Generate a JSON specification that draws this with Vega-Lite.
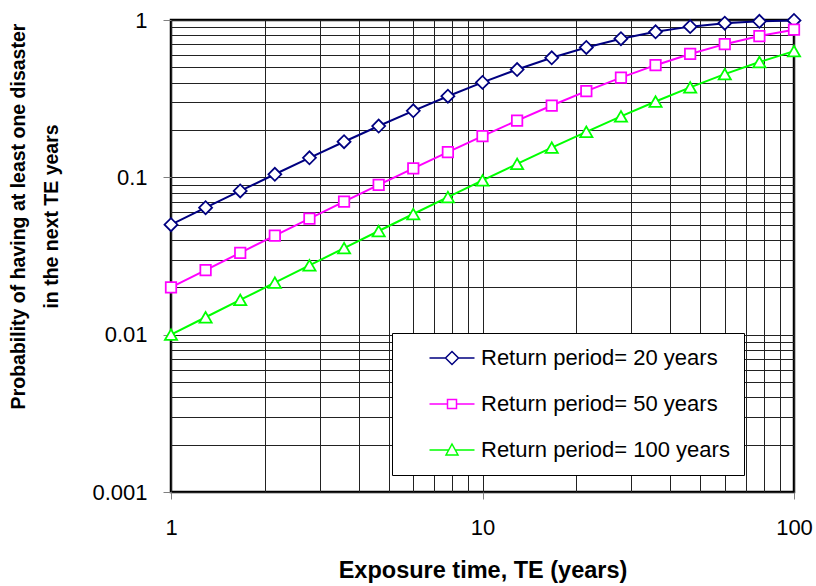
{
  "$schema": "https://vega.github.io/schema/vega-lite/v6.json",
  "width": 623,
  "height": 472,
  "autosize": "none",
  "padding": {"left": 171, "top": 20, "right": 22, "bottom": 94},
  "background": "white",
  "config": {
    "font": "Liberation Sans",
    "view": {"stroke": "black", "strokeWidth": 2.5},
    "axis": {
      "domain": false,
      "grid": true,
      "gridColor": "#222222",
      "gridWidth": 1,
      "tickColor": "#808080",
      "tickWidth": 1,
      "labelColor": "black",
      "labelFontSize": 22,
      "labelOverlap": false,
      "labelFlush": false,
      "titleColor": "black",
      "titleFontWeight": "bold"
    }
  },
  "data": {
    "values": [
      {"te": 1, "p": 0.05, "series": "Return period= 20 years"},
      {"te": 1.2915, "p": 0.0641, "series": "Return period= 20 years"},
      {"te": 1.6681, "p": 0.082, "series": "Return period= 20 years"},
      {"te": 2.1544, "p": 0.1046, "series": "Return period= 20 years"},
      {"te": 2.7826, "p": 0.133, "series": "Return period= 20 years"},
      {"te": 3.5938, "p": 0.1684, "series": "Return period= 20 years"},
      {"te": 4.6416, "p": 0.2119, "series": "Return period= 20 years"},
      {"te": 5.9948, "p": 0.2647, "series": "Return period= 20 years"},
      {"te": 7.7426, "p": 0.3278, "series": "Return period= 20 years"},
      {"te": 10, "p": 0.4013, "series": "Return period= 20 years"},
      {"te": 12.915, "p": 0.4844, "series": "Return period= 20 years"},
      {"te": 16.681, "p": 0.575, "series": "Return period= 20 years"},
      {"te": 21.544, "p": 0.6688, "series": "Return period= 20 years"},
      {"te": 27.826, "p": 0.7601, "series": "Return period= 20 years"},
      {"te": 35.938, "p": 0.8417, "series": "Return period= 20 years"},
      {"te": 46.416, "p": 0.9075, "series": "Return period= 20 years"},
      {"te": 59.948, "p": 0.9538, "series": "Return period= 20 years"},
      {"te": 77.426, "p": 0.9812, "series": "Return period= 20 years"},
      {"te": 100, "p": 0.9941, "series": "Return period= 20 years"},
      {"te": 1, "p": 0.02, "series": "Return period= 50 years"},
      {"te": 1.2915, "p": 0.02575, "series": "Return period= 50 years"},
      {"te": 1.6681, "p": 0.03314, "series": "Return period= 50 years"},
      {"te": 2.1544, "p": 0.04259, "series": "Return period= 50 years"},
      {"te": 2.7826, "p": 0.05467, "series": "Return period= 50 years"},
      {"te": 3.5938, "p": 0.07003, "series": "Return period= 50 years"},
      {"te": 4.6416, "p": 0.08951, "series": "Return period= 50 years"},
      {"te": 5.9948, "p": 0.1141, "series": "Return period= 50 years"},
      {"te": 7.7426, "p": 0.1448, "series": "Return period= 50 years"},
      {"te": 10, "p": 0.1829, "series": "Return period= 50 years"},
      {"te": 12.915, "p": 0.2296, "series": "Return period= 50 years"},
      {"te": 16.681, "p": 0.2861, "series": "Return period= 50 years"},
      {"te": 21.544, "p": 0.3529, "series": "Return period= 50 years"},
      {"te": 27.826, "p": 0.43, "series": "Return period= 50 years"},
      {"te": 35.938, "p": 0.5162, "series": "Return period= 50 years"},
      {"te": 46.416, "p": 0.6085, "series": "Return period= 50 years"},
      {"te": 59.948, "p": 0.7022, "series": "Return period= 50 years"},
      {"te": 77.426, "p": 0.7908, "series": "Return period= 50 years"},
      {"te": 100, "p": 0.8674, "series": "Return period= 50 years"},
      {"te": 1, "p": 0.01, "series": "Return period= 100 years"},
      {"te": 1.2915, "p": 0.0129, "series": "Return period= 100 years"},
      {"te": 1.6681, "p": 0.01663, "series": "Return period= 100 years"},
      {"te": 2.1544, "p": 0.02142, "series": "Return period= 100 years"},
      {"te": 2.7826, "p": 0.02758, "series": "Return period= 100 years"},
      {"te": 3.5938, "p": 0.03547, "series": "Return period= 100 years"},
      {"te": 4.6416, "p": 0.04558, "series": "Return period= 100 years"},
      {"te": 5.9948, "p": 0.05847, "series": "Return period= 100 years"},
      {"te": 7.7426, "p": 0.07486, "series": "Return period= 100 years"},
      {"te": 10, "p": 0.09562, "series": "Return period= 100 years"},
      {"te": 12.915, "p": 0.1217, "series": "Return period= 100 years"},
      {"te": 16.681, "p": 0.1544, "series": "Return period= 100 years"},
      {"te": 21.544, "p": 0.1947, "series": "Return period= 100 years"},
      {"te": 27.826, "p": 0.2439, "series": "Return period= 100 years"},
      {"te": 35.938, "p": 0.3032, "series": "Return period= 100 years"},
      {"te": 46.416, "p": 0.3728, "series": "Return period= 100 years"},
      {"te": 59.948, "p": 0.4526, "series": "Return period= 100 years"},
      {"te": 77.426, "p": 0.5408, "series": "Return period= 100 years"},
      {"te": 100, "p": 0.634, "series": "Return period= 100 years"}
    ]
  },
  "encoding": {
    "x": {
      "field": "te",
      "type": "quantitative",
      "scale": {"type": "log", "domain": [1, 100]},
      "axis": {
        "values": [1, 2, 3, 4, 5, 6, 7, 8, 9, 10, 20, 30, 40, 50, 60, 70, 80, 90, 100],
        "labelExpr": "(datum.value == 1 || datum.value == 10 || datum.value == 100) ? format(datum.value, '~g') : ''",
        "tickOpacity": {"condition": {"test": "datum.value == 1 || datum.value == 10 || datum.value == 100", "value": 1}, "value": 0},
        "tickSize": 7,
        "labelPadding": 18,
        "title": "Exposure time, TE (years)",
        "titleFontSize": 23.5,
        "titleY": 85,
        "titleBaseline": "alphabetic"
      }
    },
    "y": {
      "field": "p",
      "type": "quantitative",
      "scale": {"type": "log", "domain": [0.001, 1]},
      "axis": {
        "values": [0.001, 0.002, 0.003, 0.004, 0.005, 0.006, 0.007, 0.008, 0.009, 0.01, 0.02, 0.03, 0.04, 0.05, 0.06, 0.07, 0.08, 0.09, 0.1, 0.2, 0.3, 0.4, 0.5, 0.6, 0.7, 0.8, 0.9, 1],
        "labelExpr": "(datum.value == 0.001 || datum.value == 0.01 || datum.value == 0.1 || datum.value == 1) ? format(datum.value, '~g') : ''",
        "tickOpacity": {"condition": {"test": "datum.value == 0.001 || datum.value == 0.01 || datum.value == 0.1 || datum.value == 1", "value": 1}, "value": 0},
        "tickSize": 8,
        "labelPadding": 16,
        "title": ["Probability of having at least one disaster", "in the next TE years"],
        "titleFontSize": 19.5,
        "titleLineHeight": 33,
        "titleAngle": -90,
        "titleAlign": "center",
        "titleBaseline": "top",
        "titleX": -162,
        "titleY": 196
      }
    },
    "color": {
      "field": "series",
      "type": "nominal",
      "scale": {
        "domain": ["Return period= 20 years", "Return period= 50 years", "Return period= 100 years"],
        "range": ["#000080", "#FF00FF", "#00FF00"]
      },
      "legend": {
        "orient": "none",
        "legendX": 221,
        "legendY": 313,
        "title": null,
        "strokeColor": "black",
        "fillColor": "white",
        "padding": 14,
        "labelFontSize": 22,
        "labelColor": "black",
        "labelLimit": 500,
        "labelOffset": 53,
        "rowPadding": 24,
        "symbolSize": 100,
        "symbolStrokeWidth": 1.5,
        "symbolOpacity": 1,
        "labelExpr": "datum.label + '\u00a0\u00a0\u00a0\u00a0\u00a0\u00a0\u00a0\u00a0\u00a0\u00a0\u00a0'"
      }
    }
  },
  "layer": [
    {"mark": {"type": "line", "strokeWidth": 2}},
    {
      "transform": [{"filter": "datum.series == 'Return period= 20 years'"}],
      "mark": {"type": "point", "shape": "diamond", "size": 169, "filled": false, "fill": "white", "strokeWidth": 1.75, "opacity": 1}
    },
    {
      "transform": [{"filter": "datum.series == 'Return period= 50 years'"}],
      "mark": {"type": "point", "shape": "square", "size": 110, "filled": false, "fill": "white", "strokeWidth": 1.75, "opacity": 1}
    },
    {
      "transform": [{"filter": "datum.series == 'Return period= 100 years'"}],
      "mark": {"type": "point", "shape": "triangle-up", "size": 150, "filled": false, "fill": "white", "strokeWidth": 1.75, "opacity": 1}
    },
    {
      "mark": {"type": "point", "filled": false, "opacity": 0},
      "encoding": {
        "shape": {
          "field": "series",
          "type": "nominal",
          "scale": {
            "domain": ["Return period= 20 years", "Return period= 50 years", "Return period= 100 years"],
            "range": [
              "M2.5,0H5.7M8.3,0H11.5M7,-1.3L8.3,0L7,1.3L5.7,0Z",
              "M2.5,0H6.1M7.9,0H11.5M6.1,-0.9H7.9V0.9H6.1Z",
              "M2.5,0H6.35M7.65,0H11.5M7,-1.2L8.2,1.0H5.8Z"
            ]
          },
          "legend": {
            "orient": "none",
            "legendX": 221,
            "legendY": 313,
            "title": null,
            "strokeColor": "black",
            "fillColor": "white",
            "padding": 14,
            "labelFontSize": 22,
            "labelColor": "black",
            "labelLimit": 500,
            "labelOffset": 53,
            "rowPadding": 24,
            "symbolSize": 100,
            "symbolStrokeWidth": 1.5,
            "symbolOpacity": 1,
            "labelExpr": "datum.label + '\u00a0\u00a0\u00a0\u00a0\u00a0\u00a0\u00a0\u00a0\u00a0\u00a0\u00a0'"
          }
        }
      }
    }
  ]
}
